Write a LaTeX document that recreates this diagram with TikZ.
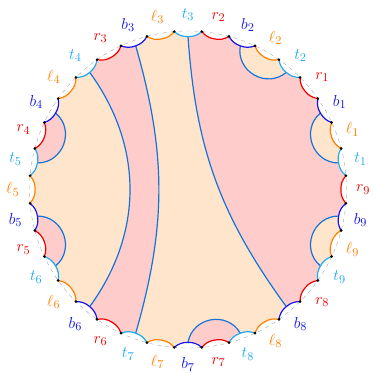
\documentclass[tikz,border=0pt]{standalone}
\usepackage{amsmath}
\usepackage{xcolor}
\usetikzlibrary{calc}

\definecolor{tcol}{RGB}{30,170,240}
\definecolor{lcol}{RGB}{255,128,0}
\definecolor{bcol}{RGB}{20,20,235}
\definecolor{rcol}{RGB}{240,0,0}
\definecolor{cutcol}{RGB}{20,115,215}
\newcommand{\rimR}{4.2}
\newcommand{\midR}{4.0504}
\newcommand{\labR}{4.64}

\begin{document}
\begin{tikzpicture}[
          halfarc/.style={bend left=20},
          bubble/.style={bend right=70, looseness=1.25},
          arcline/.style={line width=0.9pt},
          cut/.style={cutcol, line width=0.9pt},
          guide/.style={gray!70, dashed, line width=0.3pt},
          peachfill/.style={fill=orange!20},
          pinkfill/.style={fill=red!20},
          every node/.style={inner sep=1pt, font=\fontsize{13}{15}\selectfont}
        ]
          \useasboundingbox (-4.981,-4.836) rectangle (4.928,5.021);
          \coordinate (o) at (0,0);
          \coordinate (d0) at (5:\rimR);
          \foreach \i in {1,...,9}
            \foreach \o in {1,...,4}{
              \pgfmathtruncatemacro\k{4*(\i-1)+\o}
              \coordinate (m\k) at (10*\k:\midR);
              \coordinate (d\k) at (10*\k+5:\rimR);
            }

          \fill[peachfill] (d0) \foreach \k in {1,...,36}{to[halfarc] (m\k) to[halfarc] (d\k)} -- cycle;
          \fill[pinkfill] (m31) to[halfarc] (d31)
            \foreach \k in {32,...,36}{to[halfarc] (m\k) to[halfarc] (d\k)}
            \foreach \k in {1,...,8}{to[halfarc] (m\k) to[halfarc] (d\k)}
            to[halfarc] (m9) to[bend right=16] (m31) -- cycle;
          \fill[pinkfill] (m11) to[halfarc] (d11) to[halfarc] (m12) to[halfarc] (d12) to[halfarc] (m13)
            to[bend left=36] (m23) to[halfarc] (d23) to[halfarc] (m24) to[halfarc] (d24) to[halfarc] (m25)
            to[bend right=16] (m11) -- cycle;
          \foreach \c/\f in {2/peachfill, 6/peachfill, 34/peachfill, 16/pinkfill, 20/pinkfill, 28/pinkfill}{
            \pgfmathtruncatemacro\a{\c-1}
            \pgfmathtruncatemacro\z{\c+1}
            \fill[\f] (m\a) to[halfarc] (d\a) to[halfarc] (m\c) to[halfarc] (d\c) to[halfarc] (m\z) to[bubble] (m\a) -- cycle;
            \draw[cut] (m\z) to[bubble] (m\a);
          }

          \draw[cut] (m13) to[bend left=36] (m23);
          \draw[cut] (m11) to[bend left=16] (m25);
          \draw[cut] (m9) to[bend right=16] (m31);

          \draw[guide] (o) circle (\rimR);
          \foreach \i in {1,...,9}
            \foreach \s/\o/\sym in {t/1/t, l/2/\ell, b/3/b, r/4/r}{
              \pgfmathtruncatemacro\k{4*(\i-1)+\o}
              \pgfmathtruncatemacro\j{\k-1}
              \draw[\s col, arcline] (d\j) to[halfarc] (m\k) to[halfarc] (d\k);
              \node[text=\s col] (lab\k) at (10*\k:\labR) {$\sym_{\i}$};
            }
          \foreach \k in {1,...,36}
            \fill (d\k) circle (1.1pt);
        \end{tikzpicture}
\end{document}
